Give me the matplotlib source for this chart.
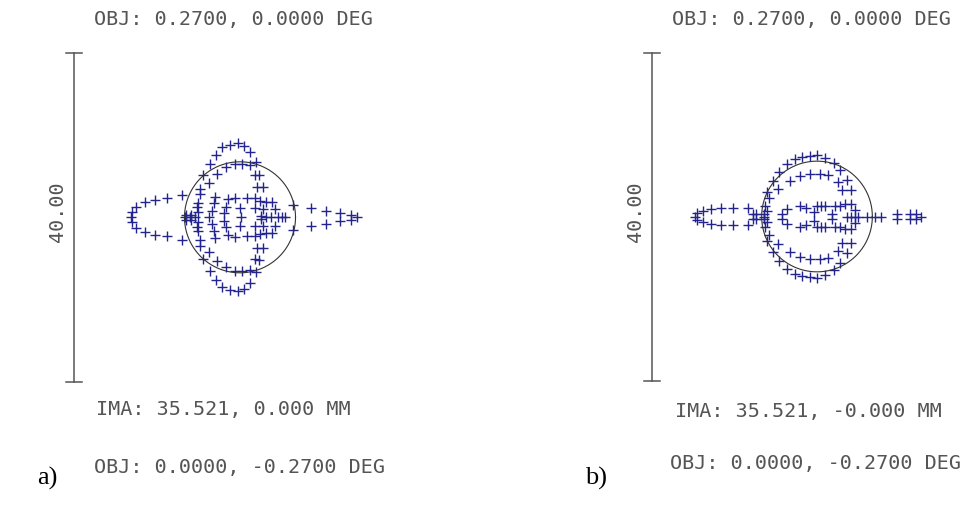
import numpy as np
import matplotlib
matplotlib.use("Agg")
import matplotlib.pyplot as plt

# spot diagram a) - ray positions in micrometres, relative to the Airy circle centre
a_x = [-2.2, -1.2, -0.3, 0.5, 1.2, -2.9, -3.7, -4.5, -4.9,
       -1.7, -0.6, 0.3, 1.2, 2.0, -2.8, 1.8, 2.3, -3.8, 2.1, 2.8,
       -4.9, -5.1, -5.2, -5.1, -3.0, -1.4, -0.6,
       0.8, 1.8, 2.4, 3.2, 3.9, -3.2, -1.7, -3.4, 0.0, 1.8, 4.3, 2.8, -2.0, 2.6,
       -7.1, -8.9, -10.3, -11.5, -12.6, -13.1,
       6.5, 8.6, 10.5, 12.1, 13.5, -6.6, -6.0,
       # centre row
       -13.2, -6.7, -6.1, -5.5, -3.8, 0.1, 3.2, 3.8, 4.6, 5.1, 5.5, 14.2,
       # lower half
       -2.2, -1.2, -0.3, 0.5, 1.2, -2.9, -3.7, -4.5, -4.9,
       -1.7, -0.6, 0.3, 1.2, 2.0, -2.8, 1.8, 2.3, -3.8, 2.1, 2.8,
       -4.9, -5.1, -5.2, -5.1, -3.0, -1.4, -0.6,
       0.8, 1.8, 2.4, 3.2, 3.9, -3.2, -1.7, -3.4, 0.0, 1.8, 4.3, 2.8, -2.0, 2.6,
       -7.1, -8.9, -10.3, -11.5, -12.6, -13.1,
       6.5, 8.6, 10.5, 12.1, 13.5, -6.6, -6.0]
a_y = [8.5, 8.8, 9.0, 8.7, 8.0, 7.6, 6.5, 5.1, 3.5,
       6.1, 6.5, 6.5, 6.4, 6.7, 5.3, 5.1, 5.2, 4.2, 3.7, 3.7,
       2.8, 1.7, 1.2, 0.6, 2.5, 2.2, 2.4,
       2.3, 2.3, 2.0, 1.9, 1.9, 1.7, 1.2, 0.8, 1.1, 1.1, 1.0, 1.0, 0.5, 0.2,
       2.7, 2.3, 2.1, 1.8, 1.3, 0.6,
       1.5, 1.1, 0.8, 0.5, 0.3, 0.3, 0.3,
       0, 0, 0, 0, 0, 0, 0, 0, 0, 0, 0, 0,
       -8.5, -8.8, -9.0, -8.7, -8.0, -7.6, -6.5, -5.1, -3.5,
       -6.1, -6.5, -6.5, -6.4, -6.7, -5.3, -5.1, -5.2, -4.2, -3.7, -3.7,
       -2.8, -1.7, -1.2, -0.6, -2.5, -2.2, -2.4,
       -2.3, -2.3, -2.0, -1.9, -1.9, -1.7, -1.2, -0.8, -1.1, -1.1, -1.0, -1.0, -0.5, -0.2,
       -2.7, -2.3, -2.1, -1.8, -1.3, -0.6,
       -1.5, -1.1, -0.8, -0.5, -0.3, -0.3, -0.3]

# spot diagram b)
b_x = [-1.8, -2.7, -3.7, -4.6, -5.4, -6.1, -5.9, -6.3, -6.1, -0.9, 0.0, 1.0, 2.1, 2.8,
       -2.1, -3.3, -4.7, -0.9, 0.4, 1.3, 2.6, 3.6, 3.1, 4.1,
       -3.7, -2.1, -1.3, -0.4, 0.0, 0.5, 1.0, 2.2, 2.8, 3.4, 4.2, -4.3, 1.8, 4.6,
       -14.6, -13.9, -12.9, -11.7, -10.2, -8.4, -7.8, -7.4, -6.5,
       9.8, 11.3, 12.1,
       # centre row
       -14.9, -6.5, 3.6, 4.1, 4.6, 5.0, 6.1, 7.1, 7.8, 12.7,
       # lower half
       -1.8, -2.7, -3.7, -4.6, -5.4, -6.1, -5.9, -6.3, -6.1, -0.9, 0.0, 1.0, 2.1, 2.8,
       -2.1, -3.3, -4.7, -0.9, 0.4, 1.3, 2.6, 3.6, 3.1, 4.1,
       -3.7, -2.1, -1.3, -0.4, 0.0, 0.5, 1.0, 2.2, 2.8, 3.4, 4.2, -4.3, 1.8, 4.6,
       -14.6, -13.9, -12.9, -11.7, -10.2, -8.4, -7.8, -7.4, -6.5,
       9.8, 11.3, 12.1]
b_y = [7.2, 7.0, 6.4, 5.4, 4.3, 3.0, 2.2, 1.3, 0.7, 7.4, 7.5, 7.1, 6.5, 5.7,
       4.9, 4.3, 3.4, 5.2, 5.2, 5.1, 4.2, 4.5, 3.2, 3.2,
       0.9, 1.3, 1.0, 0.5, 1.3, 1.3, 1.3, 1.3, 1.3, 1.5, 1.5, 0.3, 0.3, 0.8,
       0.4, 0.7, 0.9, 1.0, 1.0, 1.0, 0.25, 0.25, 0.3,
       0.25, 0.25, 0.25,
       0, 0, 0, 0, 0, 0, 0, 0, 0, 0,
       -7.2, -7.0, -6.4, -5.4, -4.3, -3.0, -2.2, -1.3, -0.7, -7.4, -7.5, -7.1, -6.5, -5.7,
       -4.9, -4.3, -3.4, -5.2, -5.2, -5.1, -4.2, -4.5, -3.2, -3.2,
       -0.9, -1.3, -1.0, -0.5, -1.3, -1.3, -1.3, -1.3, -1.3, -1.5, -1.5, -0.3, -0.3, -0.8,
       -0.4, -0.7, -0.9, -1.0, -1.0, -1.0, -0.25, -0.25, -0.3,
       -0.25, -0.25, -0.25]

airy_radius = 6.75      # micrometres
scale_length = 40.0     # scale bar, micrometres

W, H = 966, 505
fig = plt.figure(figsize=(W / 100, H / 100), dpi=100)

txt_col = "#555555"
mono = dict(family="DejaVu Sans Mono", fontsize=14.5, color=txt_col)


def spot_axes(x0, x1, cx, cy, px_per_um):
    # axes covering pixel columns x0..x1 (full height), data in micrometres
    ax = fig.add_axes([x0 / W, 0, (x1 - x0) / W, 1])
    ax.set_xlim((x0 - cx) / px_per_um, (x1 - cx) / px_per_um)
    ax.set_ylim((cy - H) / px_per_um, cy / px_per_um)
    ax.axis("off")
    return ax


def draw_panel(ax, xs, ys, bar_x):
    ax.plot(xs, ys, ls="none", marker="+", ms=6.5, mew=1.0, color="#24248f")
    t = np.linspace(0, 2 * np.pi, 300)
    ax.plot(airy_radius * np.cos(t), airy_radius * np.sin(t), color="#333333", lw=0.8)
    half = scale_length / 2
    ax.plot([bar_x, bar_x], [-half, half], color="#555555", lw=1.1)
    ax.plot([bar_x - 1, bar_x + 1], [half, half], color="#555555", lw=1.1)
    ax.plot([bar_x - 1, bar_x + 1], [-half, -half], color="#555555", lw=1.1)


ax_a = spot_axes(0, 483, 240, 217.3, 8.225)
draw_panel(ax_a, a_x, a_y, (74 - 240) / 8.225)

ax_b = spot_axes(483, 966, 817, 216.5, 8.2)
draw_panel(ax_b, b_x, b_y, (652 - 817) / 8.2)


def ftext(x, y, s, **kw):
    fig.text(x / W, 1 - y / H, s, ha="center", va="center", **kw)


ftext(233, 19, "OBJ: 0.2700, 0.0000 DEG", **mono)
ftext(811, 19, "OBJ: 0.2700, 0.0000 DEG", **mono)
ftext(57, 212, "40.00", rotation=90, **mono)
ftext(636, 212, "40.00", rotation=90, **mono)
ftext(223, 410, "IMA: 35.521, 0.000 MM", **mono)
ftext(808, 411, "IMA: 35.521, -0.000 MM", **mono)
ftext(240, 468, "OBJ: 0.0000, -0.2700 DEG", **mono)
ftext(815, 464, "OBJ: 0.0000, -0.2700 DEG", **mono)
ftext(47, 478, "a)", family="Liberation Serif", fontsize=19, color="black")
ftext(596, 478, "b)", family="Liberation Serif", fontsize=19, color="black")

fig.savefig("out.png", dpi=100, facecolor="white")
